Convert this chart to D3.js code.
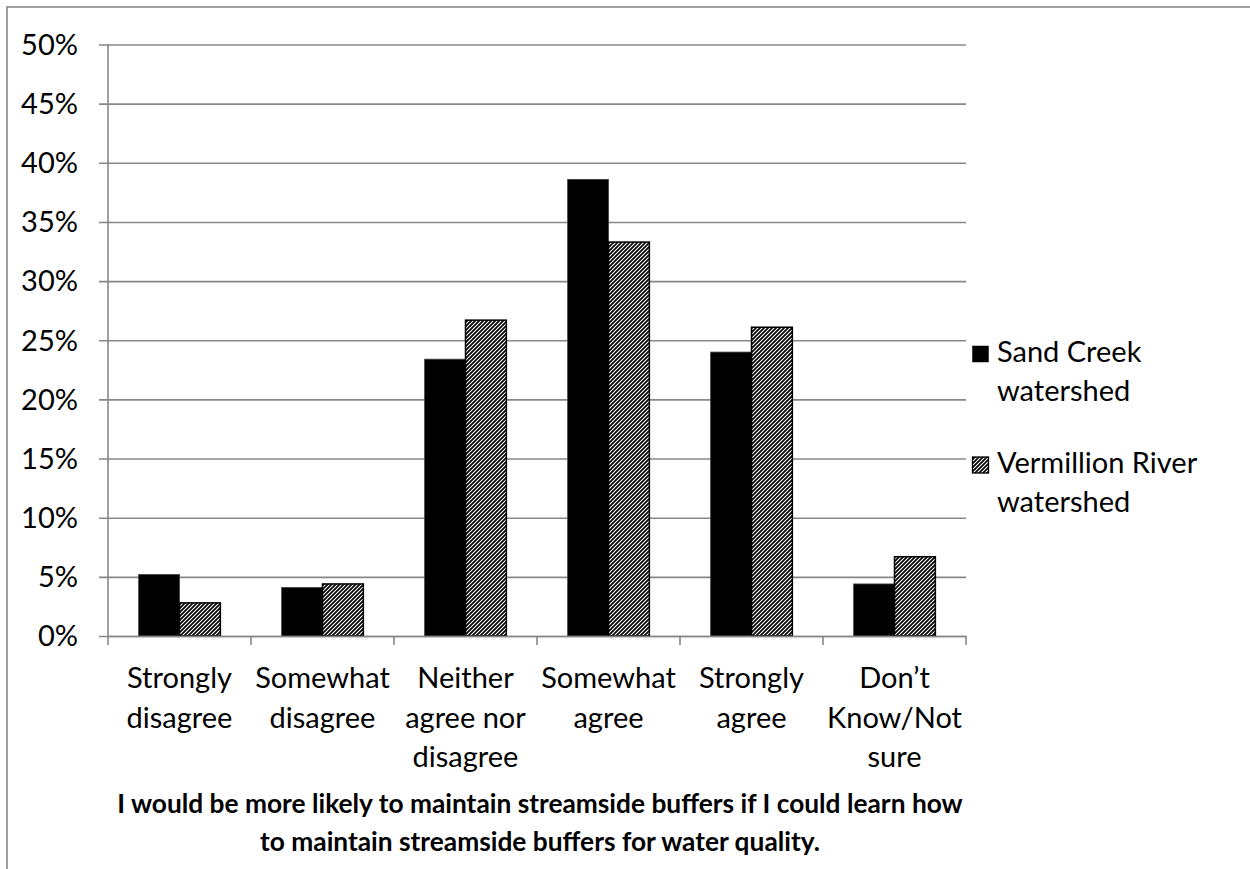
<!DOCTYPE html>
<html>
<head>
<meta charset="utf-8">
<script src="https://cdn.jsdelivr.net/npm/d3@7"></script>
<style>
  html, body { margin: 0; padding: 0; background: #fff; }
  svg { display: block; }
  svg text { font-family: Lato, "Open Sans", "Liberation Sans", sans-serif; }
</style>
</head>
<body>
<svg id="chart" width="1250" height="869"></svg>
<script>
// Survey responses, percent of respondents in each watershed
const categories = [
  ["Strongly", "disagree"],
  ["Somewhat", "disagree"],
  ["Neither", "agree nor", "disagree"],
  ["Somewhat", "agree"],
  ["Strongly", "agree"],
  ["Don\u2019t", "Know/Not", "sure"]
];
const seriesNames = [["Sand Creek", "watershed"], ["Vermillion River", "watershed"]];
const sandCreek = [5.2, 4.1, 23.4, 38.6, 24.0, 4.4];
const vermillion = [2.8, 4.4, 26.7, 33.3, 26.1, 6.7];
const yTicks = [0, 5, 10, 15, 20, 25, 30, 35, 40, 45, 50];
const titleLines = [
  "I would be more likely to maintain streamside buffers if I could learn how",
  "to maintain streamside buffers for water quality."
];

const svg = d3.select("#chart");
const plot = { left: 108, right: 966, top: 44.5, bottom: 636 };
const gridColor = "#878787";

// hatched fill for the second series
const defs = svg.append("defs");
const pat = defs.append("pattern")
  .attr("id", "hatch")
  .attr("patternUnits", "userSpaceOnUse")
  .attr("width", 4).attr("height", 4);
pat.append("rect").attr("width", 4).attr("height", 4).attr("fill", "#fff");
pat.append("path")
  .attr("d", "M-1,1 l2,-2 M0,4 l4,-4 M3,5 l2,-2")
  .attr("stroke", "#000").attr("stroke-width", 1.7);

// outer chart frame
svg.append("rect")
  .attr("x", 7).attr("y", 7)
  .attr("width", 1300).attr("height", 1000)
  .attr("fill", "none").attr("stroke", gridColor).attr("stroke-width", 1.6);

const x0 = d3.scaleBand()
  .domain(d3.range(categories.length))
  .range([plot.left, plot.right]);
const barW = x0.bandwidth() / 3.5;
const y = d3.scaleLinear().domain([0, 50]).range([plot.bottom, plot.top]);

// horizontal gridlines with y tick labels
const yAxis = d3.axisLeft(y)
  .tickValues(yTicks)
  .tickSize(-(plot.right - plot.left))
  .tickPadding(30)
  .tickFormat(d => d + "%");
const gy = svg.append("g").attr("transform", `translate(${plot.left},0)`).call(yAxis);
gy.attr("font-family", null);
gy.select(".domain").remove();
gy.selectAll(".tick line").attr("stroke", gridColor).attr("stroke-width", 1.6)
  .attr("x1", -9);
gy.selectAll(".tick text").attr("font-size", 29).attr("fill", "#000")
  .attr("dy", "0.34em");

// left axis line
svg.append("line")
  .attr("x1", plot.left).attr("x2", plot.left)
  .attr("y1", plot.top).attr("y2", plot.bottom)
  .attr("stroke", gridColor).attr("stroke-width", 1.6);

// bars
const groups = svg.append("g").selectAll("g")
  .data(categories.map((c, i) => i))
  .join("g");

groups.append("rect")
  .attr("x", i => x0(i) + x0.bandwidth() / 2 - barW)
  .attr("y", i => y(sandCreek[i]))
  .attr("width", barW)
  .attr("height", i => y(0) - y(sandCreek[i]))
  .attr("fill", "#000")
  .attr("stroke", "#404040").attr("stroke-width", 0.8);

groups.append("rect")
  .attr("x", i => x0(i) + x0.bandwidth() / 2)
  .attr("y", i => y(vermillion[i]))
  .attr("width", barW)
  .attr("height", i => y(0) - y(vermillion[i]))
  .attr("fill", "url(#hatch)")
  .attr("stroke", "#000").attr("stroke-width", 1.5);

// category axis
const xAxis = d3.axisBottom(x0).tickSize(0).tickFormat("");
const gx = svg.append("g").attr("transform", `translate(0,${plot.bottom})`).call(xAxis);
gx.select(".domain").attr("stroke", gridColor).attr("stroke-width", 1.6);
// tick marks at category boundaries
svg.append("g").selectAll("line")
  .data(d3.range(categories.length + 1))
  .join("line")
  .attr("x1", i => plot.left + i * x0.step())
  .attr("x2", i => plot.left + i * x0.step())
  .attr("y1", plot.bottom).attr("y2", plot.bottom + 9)
  .attr("stroke", gridColor).attr("stroke-width", 1.6);

// category labels
const labels = svg.append("g").selectAll("text")
  .data(categories.map((c, i) => i))
  .join("text")
  .attr("x", i => x0(i) + x0.bandwidth() / 2)
  .attr("y", 688)
  .attr("text-anchor", "middle")
  .attr("font-size", 29)
  .attr("fill", "#000");
labels.selectAll("tspan")
  .data(i => categories[i].map(t => ({ t, i })))
  .join("tspan")
  .attr("x", d => x0(d.i) + x0.bandwidth() / 2)
  .attr("dy", (d, k) => k === 0 ? 0 : 39.5)
  .text(d => d.t);

// legend
const legend = svg.append("g");
const legendBase = [362, 473];
seriesNames.forEach((name, k) => {
  legend.append("rect")
    .attr("x", 972.5).attr("y", legendBase[k] - 16)
    .attr("width", 16).attr("height", 16)
    .attr("fill", k === 0 ? "#000" : "url(#hatch)")
    .attr("stroke", "#000").attr("stroke-width", k === 0 ? 0.5 : 1.3);
  const t = legend.append("text")
    .attr("x", 997).attr("y", legendBase[k])
    .attr("font-size", 29).attr("fill", "#000");
  name.forEach((line, j) => {
    t.append("tspan").attr("x", 997).attr("dy", j === 0 ? 0 : 38.5).text(line);
  });
});

// axis title
const title = svg.append("text")
  .attr("x", 540).attr("y", 813)
  .attr("text-anchor", "middle")
  .attr("font-size", 26.3).attr("font-weight", "bold").attr("fill", "#000");
titleLines.forEach((line, j) => {
  title.append("tspan").attr("x", 540).attr("dy", j === 0 ? 0 : 38).text(line);
});
</script>
</body>
</html>
